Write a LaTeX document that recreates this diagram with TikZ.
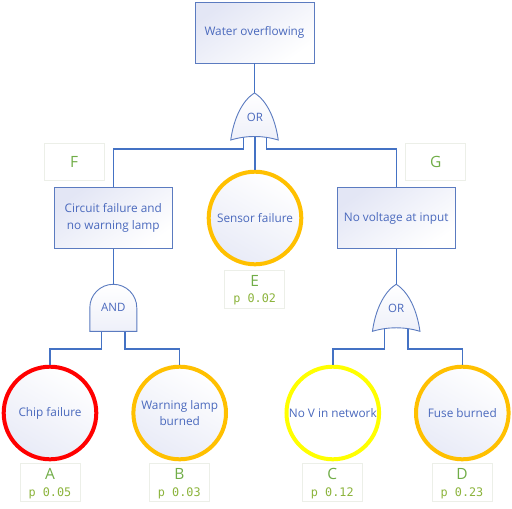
\documentclass[tikz,border=0pt]{standalone}
\usepackage{fontspec}
\setmainfont{Open Sans}
\setmonofont{DejaVu Sans Mono}
\definecolor{lineblue}{HTML}{4472C4}
\definecolor{txtblue}{HTML}{4A69BD}
\definecolor{boxedge}{HTML}{5B7BC0}
\definecolor{lav}{HTML}{E3E6F5}
\definecolor{lblgreen}{HTML}{70AD47}
\definecolor{pgreen}{HTML}{8CB43C}
\definecolor{lblborder}{HTML}{ECEFE8}
\definecolor{cred}{HTML}{FF0000}
\definecolor{corange}{HTML}{FFC000}
\definecolor{cyellow}{HTML}{FFFF00}
\tikzset{
  conn/.style={draw=lineblue, line width=1.4pt},
  evbox/.style={rectangle, draw=boxedge, line width=0.9pt, top color=lav, bottom color=white, shading angle=35,
    text=txtblue, align=center, font=\fontsize{11.8}{16.7}\selectfont, inner sep=0pt},
  basic/.style={circle, line width=4pt, minimum size=92.6pt, top color=white, bottom color=lav!80, shading angle=-30,
    text=txtblue, align=center, font=\fontsize{11.8}{16.7}\selectfont, inner sep=0pt},
  lblbox/.style={rectangle, draw=lblborder, line width=1pt, fill=white, minimum width=60pt, inner sep=0pt},
  letter/.style={text=lblgreen, font=\fontsize{15.5}{16}\selectfont, inner sep=0pt},
  prob/.style={text=pgreen, font=\ttfamily\fontsize{11.8}{12}\selectfont, inner sep=0pt},
  gate/.style={draw=boxedge, line width=0.9pt, top color=white, bottom color=lav!60},
  gatetext/.style={text=txtblue, font=\fontsize{11.5}{12}\selectfont, inner sep=0pt},
  orgate/.pic={\path[gate] (0,0) .. controls (-13,8) and (-21,27) .. (-23.75,47) .. controls (-8,42.3) and (8,42.3) .. (23.75,47) .. controls (21,27) and (13,8) .. cycle;},
  andgate/.pic={\path[gate] (-23.5,47) -- (-23.5,23.5) arc (180:360:23.5) -- (23.5,47) -- cycle;}
}
\begin{document}
\begin{tikzpicture}[x=1pt,y=-1pt]
\useasboundingbox[fill=white] (0,0) rectangle (512,509);

% events
\node[evbox, minimum width=119pt, minimum height=61pt] (top) at (254.5,32.5) {Water overflowing};
\node[evbox, minimum width=118pt, minimum height=61pt] (F) at (113.3,217.8) {Circuit failure and\\no warning lamp};
\node[evbox, minimum width=117.7pt, minimum height=61.4pt] (G) at (396.2,218) {No voltage at input};

\node[basic, draw=corange] (E) at (255,218) {Sensor failure};
\node[basic, draw=cred] (A) at (50,413) {Chip failure};
\node[basic, draw=corange] (B) at (179.7,413) {Warning lamp\\burned};
\node[basic, draw=cyellow, top color=white, bottom color=white] (C) at (332.8,413) {No V in network};
\node[basic, draw=corange] (D) at (462.3,413) {Fuse burned};

% label boxes
\node[lblbox, minimum height=37pt] (lF) at (74,161.7) {};
\node[letter] (tF) at (lF.center) {F};
\node[lblbox, minimum height=37pt] (lG) at (435.7,161.7) {};
\node[letter] (tG) at (lG.center) {G};

\node[lblbox, minimum height=38pt] (lE) at (254.7,289.2) {};
\node[letter] (tE) at (254.7,280.5) {E};
\node[prob] (pE) at (254.7,299.5) {p 0.02};

\node[lblbox, minimum height=38pt] (lA) at (50,482.5) {};
\node[letter] (tA) at (50,474.3) {A};
\node[prob] (pA) at (50,493.5) {p 0.05};

\node[lblbox, minimum height=38pt] (lB) at (179.3,482.5) {};
\node[letter] (tB) at (179.3,474.3) {B};
\node[prob] (pB) at (179.3,493.5) {p 0.03};

\node[lblbox, minimum height=38pt] (lC) at (332.3,482.5) {};
\node[letter] (tC) at (332.3,474.3) {C};
\node[prob] (pC) at (332.3,493.5) {p 0.12};

\node[lblbox, minimum height=38pt] (lD) at (462,482.5) {};
\node[letter] (tD) at (462,474.3) {D};
\node[prob] (pD) at (462,493.5) {p 0.23};

% gate ports
\coordinate (or1in) at (254.5,93);
\coordinate (or1l) at (243.3,136);
\coordinate (or1m) at (255,136);
\coordinate (or1r) at (266.7,136);
\coordinate (andin) at (113.3,284.3);
\coordinate (andl) at (101.6,330);
\coordinate (andr) at (125,330);
\coordinate (or2in) at (396.2,284.3);
\coordinate (or2l) at (384.5,328);
\coordinate (or2r) at (407.9,328);

% connectors
\draw[conn] (top.south) -- (or1in);
\draw[conn] (or1l) -- ++(0,13) -| (F.north);
\draw[conn] (or1m) -- (E.north);
\draw[conn] (or1r) -- ++(0,13) -| (G.north);
\draw[conn] (F.south) -- (andin);
\draw[conn] (andl) -- ++(0,19) -| (A.north);
\draw[conn] (andr) -- ++(0,19) -| (B.north);
\draw[conn] (G.south) -- (or2in);
\draw[conn] (or2l) -- ++(0,21) -| (C.north);
\draw[conn] (or2r) -- ++(0,21) -| (D.north);

% gates
\pic at (or1in) {orgate};
\node[gatetext] (or1) at (255,117) {OR};
\pic at (andin) {andgate};
\node[gatetext] (and) at (113.3,307.7) {AND};
\pic at (or2in) {orgate};
\node[gatetext] (or2) at (396.2,308) {OR};
\end{tikzpicture}
\end{document}
